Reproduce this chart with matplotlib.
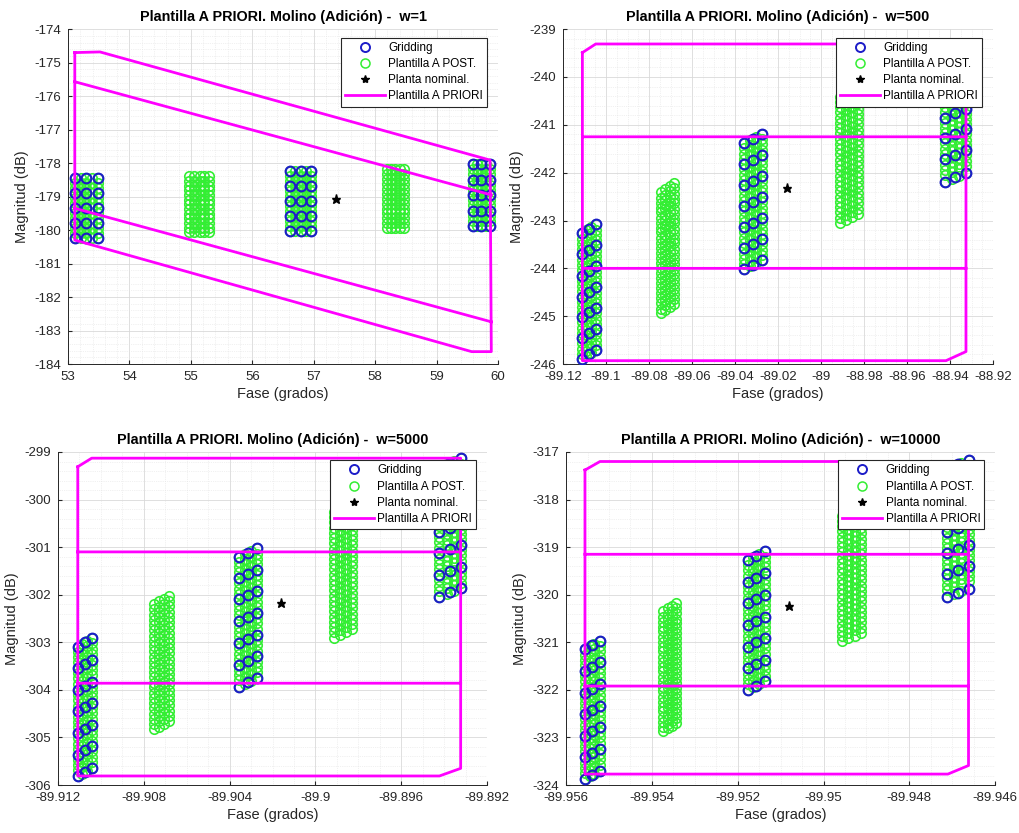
import matplotlib
matplotlib.use("Agg")
import matplotlib.pyplot as plt
import numpy as np
from matplotlib.ticker import FormatStrFormatter, AutoMinorLocator
from matplotlib.lines import Line2D

plt.rcParams['font.family'] = ['Liberation Sans', 'DejaVu Sans']
plt.rcParams['axes.unicode_minus'] = False

# ---------------- datos ----------------
frecuencias = [1, 500, 5000, 10000]

# w = 1  (5 grupos, rejilla sin inclinacion)
p1_blue_x = [[53.12, 53.30, 53.48], None, [56.62, 56.79, 56.95], None, [59.59, 59.73, 59.87]]
p1_green_x = [[53.12, 53.21, 53.30, 53.39, 53.48],
              [54.97, 55.05, 55.14, 55.22, 55.30],
              [56.62, 56.70, 56.79, 56.87, 56.95],
              [58.19, 58.26, 58.33, 58.40, 58.47],
              [59.59, 59.66, 59.73, 59.80, 59.87]]
p1_rows = [[-178.43, -178.88, -179.33, -179.78, -180.23],
           [-178.38, -178.80, -179.22, -179.64, -180.06],
           [-178.23, -178.68, -179.13, -179.58, -180.03],
           [-178.18, -178.62, -179.06, -179.49, -179.93],
           [-178.04, -178.50, -178.96, -179.42, -179.87]]
p1_sub = [0.0, 0.15, 0.30]
p1_skew = 0.0
p1_nominal = (57.36, -179.08)
p1_borde_x = [53.11, 53.52, 59.87, 59.89, 59.57, 53.11, 53.11, np.nan,
              53.11, 59.89, np.nan, 53.11, 59.89]
p1_borde_y = [-174.70, -174.68, -177.91, -183.63, -183.63, -180.30, -174.70, np.nan,
              -175.57, -178.95, np.nan, -179.35, -182.74]

# w = 500
p2_blue_x = [[-89.1113, -89.1078, -89.1047], None, [-89.0357, -89.0318, -89.0276], None,
             [-88.9423, -88.9377, -88.9326]]
p2_green_x = [[-89.1113, -89.1091, -89.1069, -89.1047],
              [-89.0744, -89.0724, -89.0704, -89.0684],
              [-89.0357, -89.0330, -89.0303, -89.0276],
              [-88.9912, -88.9884, -88.9855, -88.9827],
              [-88.9423, -88.9391, -88.9358, -88.9326]]
p2_rows = [[-243.27, -243.71, -244.15, -244.59, -245.02, -245.46, -245.90],
           [-242.41, -242.83, -243.25, -243.67, -244.09, -244.51, -244.93],
           [-241.38, -241.82, -242.26, -242.70, -243.14, -243.58, -244.02],
           [-240.41, -240.85, -241.29, -241.73, -242.17, -242.61, -243.05],
           [-239.53, -239.97, -240.41, -240.85, -241.28, -241.72, -242.19]]
p2_sub = [0.0, 0.11, 0.22, 0.33]
p2_skew = 0.19
p2_nominal = (-89.016, -242.33)
p2_borde_x = [-89.1110, -89.1048, -88.9326, -88.9326, -88.9419, -89.1110, -89.1110, np.nan,
              -89.1110, -88.9326, np.nan, -89.1110, -88.9326]
p2_borde_y = [-239.49, -239.31, -239.31, -245.74, -245.93, -245.93, -239.49, np.nan,
              -241.25, -241.25, np.nan, -244.00, -244.00]

# w = 5000
p3_blue_x = [[-89.91108, -89.91074, -89.91043], None, [-89.90355, -89.90315, -89.90274], None,
             [-89.89422, -89.89372, -89.89323]]
p3_green_x = [[-89.91108, -89.91086, -89.91065, -89.91043],
              [-89.90752, -89.90729, -89.90706, -89.90683],
              [-89.90355, -89.90328, -89.90301, -89.90274],
              [-89.89913, -89.89885, -89.89857, -89.89829],
              [-89.89422, -89.89389, -89.89356, -89.89323]]
p3_rows = [[-303.09, -303.54, -304.00, -304.45, -304.91, -305.36, -305.82],
           [-302.20, -302.64, -303.08, -303.52, -303.95, -304.39, -304.83],
           [-301.20, -301.65, -302.10, -302.56, -303.02, -303.47, -303.93],
           [-300.26, -300.70, -301.14, -301.58, -302.02, -302.46, -302.90],
           [-299.31, -299.76, -300.22, -300.68, -301.13, -301.59, -302.04]]
p3_sub = [0.0, 0.11, 0.22, 0.33]
p3_skew = 0.175
p3_nominal = (-89.9016, -302.17)
p3_borde_x = [-89.91108, -89.91043, -89.89323, -89.89323, -89.89422, -89.91108, -89.91108, np.nan,
              -89.91108, -89.89323, np.nan, -89.91108, -89.89323]
p3_borde_y = [-299.31, -299.13, -299.13, -305.65, -305.81, -305.81, -299.31, np.nan,
              -301.10, -301.10, np.nan, -303.86, -303.86]

# w = 10000
p4_blue_x = [[-89.95557, -89.95540, -89.95522], None, [-89.95177, -89.95157, -89.95137], None,
             [-89.94712, -89.94687, -89.94662]]
p4_green_x = [[-89.95557, -89.95545, -89.95534, -89.95522],
              [-89.95373, -89.95363, -89.95354, -89.95344],
              [-89.95177, -89.95164, -89.95150, -89.95137],
              [-89.94957, -89.94942, -89.94927, -89.94912],
              [-89.94712, -89.94695, -89.94679, -89.94662]]
p4_rows = [[-321.15, -321.60, -322.06, -322.51, -322.96, -323.42, -323.88],
           [-320.35, -320.77, -321.19, -321.61, -322.03, -322.45, -322.87],
           [-319.27, -319.73, -320.18, -320.64, -321.09, -321.55, -322.00],
           [-318.34, -318.78, -319.22, -319.66, -320.10, -320.54, -320.98],
           [-317.35, -317.80, -318.24, -318.69, -319.13, -319.57, -320.05]]
p4_sub = [0.0, 0.11, 0.22, 0.33]
p4_skew = 0.18
p4_nominal = (-89.9508, -320.24)
p4_borde_x = [-89.95556, -89.95521, -89.94662, -89.94662, -89.94710, -89.95556, -89.95556, np.nan,
              -89.95556, -89.94662, np.nan, -89.95556, -89.94662]
p4_borde_y = [-317.38, -317.20, -317.20, -323.59, -323.77, -323.77, -317.38, np.nan,
              -319.15, -319.15, np.nan, -321.92, -321.92]

# ejes
p1_xticks = [53, 54, 55, 56, 57, 58, 59, 60]
p1_yticks = [-184, -183, -182, -181, -180, -179, -178, -177, -176, -175, -174]
p2_xticks = [-89.12, -89.10, -89.08, -89.06, -89.04, -89.02, -89.00, -88.98, -88.96, -88.94, -88.92]
p2_yticks = [-246, -245, -244, -243, -242, -241, -240, -239]
p3_xticks = [-89.912, -89.908, -89.904, -89.900, -89.896, -89.892]
p3_yticks = [-306, -305, -304, -303, -302, -301, -300, -299]
p4_xticks = [-89.956, -89.954, -89.952, -89.950, -89.948, -89.946]
p4_yticks = [-324, -323, -322, -321, -320, -319, -318, -317]

paneles = [
    dict(bx=p1_blue_x, gx=p1_green_x, rows=p1_rows, sub=p1_sub, skew=p1_skew, nom=p1_nominal,
         bdx=p1_borde_x, bdy=p1_borde_y, xt=p1_xticks, yt=p1_yticks, minor_x=5),
    dict(bx=p2_blue_x, gx=p2_green_x, rows=p2_rows, sub=p2_sub, skew=p2_skew, nom=p2_nominal,
         bdx=p2_borde_x, bdy=p2_borde_y, xt=p2_xticks, yt=p2_yticks, minor_x=4),
    dict(bx=p3_blue_x, gx=p3_green_x, rows=p3_rows, sub=p3_sub, skew=p3_skew, nom=p3_nominal,
         bdx=p3_borde_x, bdy=p3_borde_y, xt=p3_xticks, yt=p3_yticks, minor_x=4),
    dict(bx=p4_blue_x, gx=p4_green_x, rows=p4_rows, sub=p4_sub, skew=p4_skew, nom=p4_nominal,
         bdx=p4_borde_x, bdy=p4_borde_y, xt=p4_xticks, yt=p4_yticks, minor_x=4),
]

AZUL = '#1c1cc8'
VERDE = '#33ee33'
MAGENTA = '#ff00ff'


def puntos(xs, rows, skew):
    # rejilla inclinada: cada fila sube 'skew' dB a lo ancho del grupo
    x0, x1 = xs[0], xs[-1]
    px, py = [], []
    for x in xs:
        for r in rows:
            px.append(x)
            py.append(r + skew * (x - x0) / (x1 - x0))
    return px, py


def dibujar(ax, p, w):
    gx_all, gy_all, bx_all, by_all = [], [], [], []
    for k in range(len(p['gx'])):
        rows = p['rows'][k]
        fine_rows = [r - s for r in rows[:-1] for s in p['sub']] + [rows[-1]]
        gx, gy = puntos(p['gx'][k], fine_rows, p['skew'])
        gx_all += gx
        gy_all += gy
        if p['bx'][k] is not None:
            bx, by = puntos(p['bx'][k], rows, p['skew'])
            bx_all += bx
            by_all += by

    ax.plot(gx_all, gy_all, 'o', mfc='none', mec=VERDE, ms=6.8, mew=1.2, zorder=3)
    ax.plot(bx_all, by_all, 'o', mfc='none', mec=AZUL, ms=7, mew=1.5, zorder=4)
    ax.plot(p['bdx'], p['bdy'], '-', color=MAGENTA, lw=2.0, zorder=5)
    ax.plot([p['nom'][0]], [p['nom'][1]], '*', color='black', ms=6.5, zorder=6)

    ax.set_xlim(p['xt'][0], p['xt'][-1])
    ax.set_ylim(p['yt'][0], p['yt'][-1])
    ax.set_xticks(p['xt'])
    ax.set_yticks(p['yt'])
    ax.xaxis.set_major_formatter(FormatStrFormatter('%g'))
    ax.yaxis.set_major_formatter(FormatStrFormatter('%g'))
    ax.xaxis.set_minor_locator(AutoMinorLocator(p['minor_x']))
    ax.yaxis.set_minor_locator(AutoMinorLocator(5))
    ax.grid(True, which='major', color='#d9d9d9', lw=0.6)
    ax.grid(True, which='minor', color='#e3e3e3', lw=0.5, ls=':')
    ax.set_axisbelow(True)
    for s in ['top', 'right']:
        ax.spines[s].set_visible(False)
    for s in ['left', 'bottom']:
        ax.spines[s].set_color('#262626')
        ax.spines[s].set_linewidth(0.7)
    ax.tick_params(which='major', direction='in', length=3, labelsize=9.5,
                   colors='#262626', pad=5)
    ax.tick_params(which='minor', length=0)

    ax.set_title('Plantilla A PRIORI. Molino (Adición) -  w=' + str(w),
                 fontsize=10.4, fontweight='bold', pad=6)
    ax.set_xlabel('Fase (grados)', fontsize=10.5, color='#262626', labelpad=3)
    ax.set_ylabel('Magnitud (dB)', fontsize=10.5, color='#262626', labelpad=4)

    handles = [
        Line2D([], [], ls='none', marker='o', mfc='none', mec=AZUL, ms=6.5, mew=1.4),
        Line2D([], [], ls='none', marker='o', mfc='none', mec=VERDE, ms=6.5, mew=1.1),
        Line2D([], [], ls='none', marker='*', color='black', ms=6),
        Line2D([], [], ls='-', color=MAGENTA, lw=2.0),
    ]
    labels = ['Gridding', 'Plantilla A POST.', 'Planta nominal.', 'Plantilla A PRIORI']
    leg = ax.legend(handles, labels, loc='upper right', bbox_to_anchor=(0.975, 0.975),
                    fontsize=8.5, frameon=True, fancybox=False, framealpha=1,
                    edgecolor='#262626', handlelength=3.4, handletextpad=0.3,
                    labelspacing=0.36, borderpad=0.35, borderaxespad=0)
    leg.get_frame().set_linewidth(0.8)
    leg.set_zorder(10)


fig = plt.figure(figsize=(10.2, 8.33), dpi=100)
posiciones = [
    [0.0667, 0.563, 0.4216, 0.402],
    [0.552, 0.563, 0.4216, 0.402],
    [0.0569, 0.0576, 0.4206, 0.3998],
    [0.555, 0.0576, 0.4206, 0.3998],
]
for p, w, pos in zip(paneles, frecuencias, posiciones):
    ax = fig.add_axes(pos)
    dibujar(ax, p, w)

fig.savefig('out.png', dpi=100, facecolor='white')
